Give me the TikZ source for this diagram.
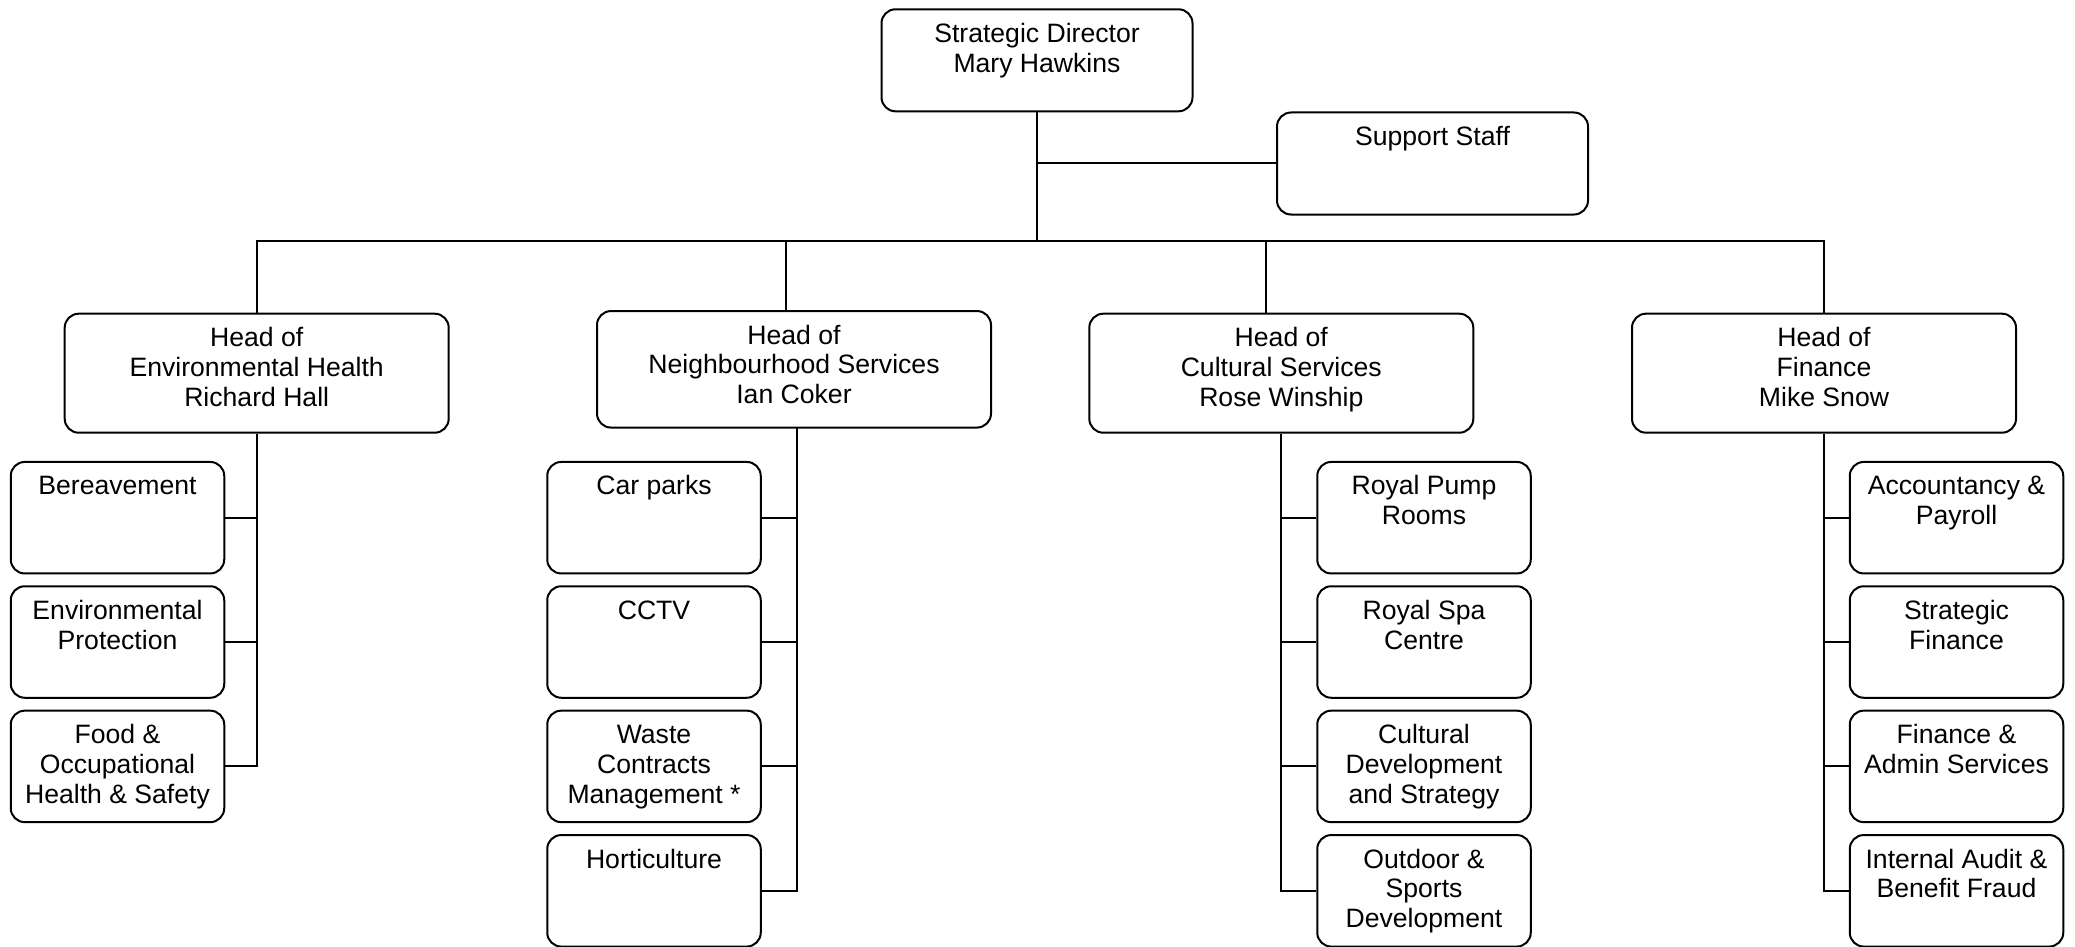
\documentclass[tikz,border=0pt]{standalone}
\usepackage{fontspec}
\setmainfont{Liberation Sans}
\newcommand\cell[3]{\parbox[c][#2pt][t]{#1pt}{\centering\rule{0pt}{33pt}#3\par}}
\tikzset{
  box/.style={draw, rounded corners=14pt, inner sep=0pt, line width=2pt, font=\fontsize{26.6pt}{29.8pt}\selectfont},
  link/.style={line width=2pt}
}
\begin{document}
\begin{tikzpicture}[x=1pt,y=-1pt]
\useasboundingbox (0,0) rectangle (2075,947);
% top level
\node[box] (dir) at (1037,60.3) {\cell{311}{102}{Strategic Director\\Mary Hawkins}};
\node[box] (sup) at (1432.5,163.5) {\cell{311}{102}{Support Staff}};
% heads
\node[box] (eh) at (256.7,373.2) {\cell{384}{119}{Head of\\Environmental Health\\Richard Hall}};
\node[box] (ns) at (794,369.3) {\cell{394}{116.5}{Head of\\Neighbourhood Services\\Ian Coker}};
\node[box] (cs) at (1281.3,373.2) {\cell{384}{119}{Head of\\Cultural Services\\Rose Winship}};
\node[box] (fin) at (1824,373.2) {\cell{384}{119}{Head of\\Finance\\Mike Snow}};
% environmental health
\node[box] (e1) at (117.5,517.7) {\cell{213.5}{111.5}{Bereavement}};
\node[box] (e2) at (117.5,642) {\cell{213.5}{111.5}{Environmental\\Protection}};
\node[box] (e3) at (117.5,766.4) {\cell{213.5}{111.5}{Food \&\\Occupational\\Health \& Safety}};
% neighbourhood services
\node[box] (n1) at (654,517.7) {\cell{213.5}{111.5}{Car parks}};
\node[box] (n2) at (654,642) {\cell{213.5}{111.5}{CCTV}};
\node[box] (n3) at (654,766.4) {\cell{213.5}{111.5}{Waste\\Contracts\\Management *}};
\node[box] (n4) at (654,890.8) {\cell{213.5}{111.5}{Horticulture}};
% cultural services
\node[box] (c1) at (1424,517.7) {\cell{213.5}{111.5}{Royal Pump\\Rooms}};
\node[box] (c2) at (1424,642) {\cell{213.5}{111.5}{Royal Spa\\Centre}};
\node[box] (c3) at (1424,766.4) {\cell{213.5}{111.5}{Cultural\\Development\\and Strategy}};
\node[box] (c4) at (1424,890.8) {\cell{213.5}{111.5}{Outdoor \&\\Sports\\Development}};
% finance
\node[box] (f1) at (1956.5,517.7) {\cell{213.5}{111.5}{Accountancy \&\\Payroll}};
\node[box] (f2) at (1956.5,642) {\cell{213.5}{111.5}{Strategic\\Finance}};
\node[box] (f3) at (1956.5,766.4) {\cell{213.5}{111.5}{Finance \&\\Admin Services}};
\node[box] (f4) at (1956.5,890.8) {\cell{213.5}{111.5}{Internal Audit \&\\Benefit Fraud}};
% connectors
\coordinate (bus) at (1037,241);
\coordinate (nsdrop) at (786,241);
\coordinate (csdrop) at (1265.7,241);
\coordinate (nsv) at (796.7,427.5);
\draw[link] (dir.south) -- (bus);
\draw[link] (sup.west) -- (sup.west -| dir.south);
\draw[link] (eh.north) -- (eh.north |- bus) -- (fin.north |- bus) -- (fin.north);
\draw[link] (nsdrop) -- (nsdrop |- ns.north);
\draw[link] (csdrop) -- (csdrop |- cs.north);
% EH children
\draw[link] (eh.south) -- (eh.south |- e3.east) -- (e3.east);
\draw[link] (e1.east) -- (e1.east -| eh.south);
\draw[link] (e2.east) -- (e2.east -| eh.south);
% NS children
\draw[link] (nsv) -- (nsv |- n4.east) -- (n4.east);
\draw[link] (n1.east) -- (n1.east -| nsv);
\draw[link] (n2.east) -- (n2.east -| nsv);
\draw[link] (n3.east) -- (n3.east -| nsv);
% CS children
\draw[link] (cs.south) -- (cs.south |- c4.west) -- (c4.west);
\draw[link] (c1.west) -- (c1.west -| cs.south);
\draw[link] (c2.west) -- (c2.west -| cs.south);
\draw[link] (c3.west) -- (c3.west -| cs.south);
% Finance children
\draw[link] (fin.south) -- (fin.south |- f4.west) -- (f4.west);
\draw[link] (f1.west) -- (f1.west -| fin.south);
\draw[link] (f2.west) -- (f2.west -| fin.south);
\draw[link] (f3.west) -- (f3.west -| fin.south);
\end{tikzpicture}
\end{document}
